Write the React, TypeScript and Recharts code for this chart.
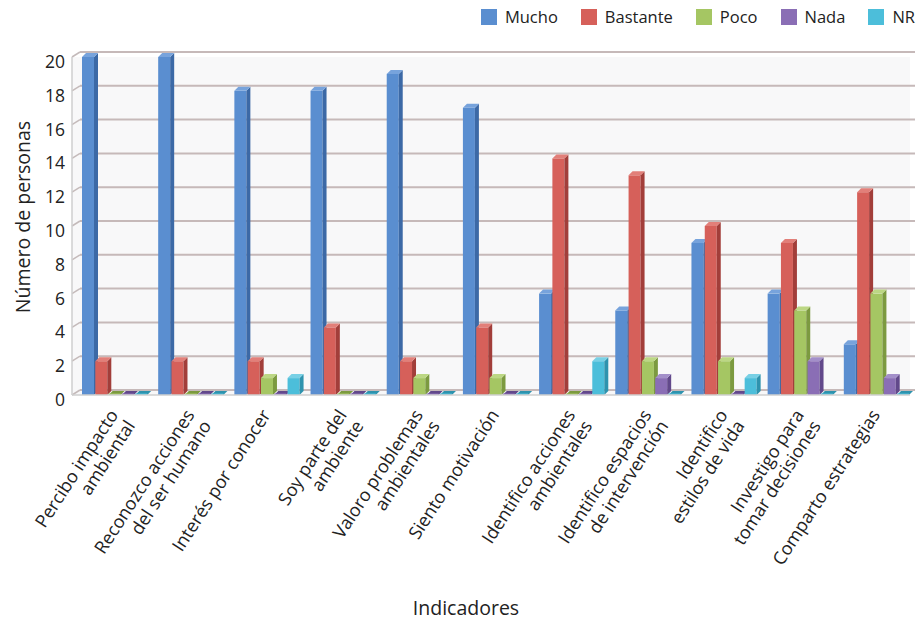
import React from "react";
import {
  BarChart,
  Bar,
  XAxis,
  YAxis,
  CartesianGrid,
  Legend,
  Label,
} from "recharts";

// Indicator names (line breaks mark the two-line tick labels)
const categories = [
  "Percibo impacto\nambiental",
  "Reconozco acciones\ndel ser humano",
  "Interés por conocer",
  "Soy parte del\nambiente",
  "Valoro problemas\nambientales",
  "Siento motivación",
  "Identifico acciones\nambientales",
  "Identifico espacios\nde intervención",
  "Identifico\nestilos de vida",
  "Investigo para\ntomar decisiones",
  "Comparto estrategias",
];

// Number of people per answer
const mucho = [20, 20, 18, 18, 19, 17, 6, 5, 9, 6, 3];
const bastante = [2, 2, 2, 4, 2, 4, 14, 13, 10, 9, 12];
const poco = [0, 0, 1, 0, 1, 1, 0, 2, 2, 5, 6];
const nada = [0, 0, 0, 0, 0, 0, 0, 1, 0, 2, 1];
const nr = [0, 0, 1, 0, 0, 0, 2, 0, 1, 0, 0];

const yTicks = [0, 2, 4, 6, 8, 10, 12, 14, 16, 18, 20];

const seriesNames = ["Mucho", "Bastante", "Poco", "Nada", "NR"];

const data = categories.map((name, i) => ({
  name,
  Mucho: mucho[i],
  Bastante: bastante[i],
  Poco: poco[i],
  Nada: nada[i],
  NR: nr[i],
}));

// front / side / top face colours for the extruded bars
const palette: Record<string, { front: string; side: string; top: string }> = {
  Mucho: { front: "#5A8ED0", side: "#3C69A6", top: "#77A3DC" },
  Bastante: { front: "#D6605A", side: "#A23E3A", top: "#E27F79" },
  Poco: { front: "#A5C663", side: "#7C9A40", top: "#BCD784" },
  Nada: { front: "#8A6EB5", side: "#62498B", top: "#A38FC9" },
  NR: { front: "#4CBEDA", side: "#2E93AE", top: "#78D0E5" },
};

const FONT = "'Open Sans', 'Noto Sans', sans-serif";
const DEPTH_X = 8;
const DEPTH_Y = 5;

function make3DBar(name: string) {
  const c = palette[name];
  return (props: any) => {
    const { x, y, width, height } = props;
    if (x == null || y == null) return <g />;
    const shift = 5;
    const w = width - 1.3;
    const dx = 4;
    const dy = 4;
    const fx = x + shift;
    const base = y + height;
    if (height < 1.5) {
      return (
        <g>
          <polygon
            points={`${fx},${base} ${fx + w},${base} ${fx + w + dx},${base - dy} ${fx + dx},${base - dy}`}
            fill={c.side}
          />
          <rect x={fx} y={base - 1.5} width={w} height={1.5} fill={c.front} />
        </g>
      );
    }
    return (
      <g>
        <rect x={fx} y={y} width={w} height={height} fill={c.front} />
        <polygon
          points={`${fx + w},${y} ${fx + w + dx},${y - dy} ${fx + w + dx},${base - dy} ${fx + w},${base}`}
          fill={c.side}
        />
        <polygon
          points={`${fx},${y} ${fx + dx},${y - dy} ${fx + w + dx},${y - dy} ${fx + w},${y}`}
          fill={c.top}
        />
      </g>
    );
  };
}

// horizontal grid line drawn on the back wall, joined to the axis by a short diagonal
const gridLine = (props: any) => {
  const { x1, y1, x2 } = props;
  return (
    <g key={props.key}>
      <line x1={x1} y1={y1} x2={x1 + DEPTH_X} y2={y1 - DEPTH_Y} stroke="#c4baba" strokeWidth={1.5} />
      <line x1={x1 + DEPTH_X} y1={y1 - DEPTH_Y} x2={x2 + 5} y2={y1 - DEPTH_Y} stroke="#c6b9b9" strokeWidth={2} />
    </g>
  );
};

const YTick = (props: any) => {
  const { x, y, payload } = props;
  return (
    <text x={x - 1} y={y + 4} textAnchor="end" dominantBaseline="central" fontFamily={FONT} fontSize={17.5} fill="#222">
      {payload.value}
    </text>
  );
};

const XTick = (props: any) => {
  const { x, y, payload } = props;
  const lines = String(payload.value).split("\n");
  const ang = -57;
  const rad = (ang * Math.PI) / 180;
  // "down" direction of the rotated text frame
  const ddx = -Math.sin(rad);
  const ddy = Math.cos(rad);
  const lh = 20;
  return (
    <g>
      {lines.map((ln, i) => {
        const px = x + 3 + ddx * lh * i;
        const py = y + 16 + ddy * lh * i;
        return (
          <text
            key={i}
            x={px}
            y={py}
            transform={`rotate(${ang}, ${px}, ${py})`}
            textAnchor="end"
            dominantBaseline="central"
            fontFamily={FONT}
            fontSize={18}
            fill="#222"
          >
            {ln}
          </text>
        );
      })}
    </g>
  );
};

const LegendBox = () => (
  <div
    style={{
      display: "flex",
      justifyContent: "flex-end",
      alignItems: "center",
      fontFamily: FONT,
      fontSize: 16.5,
      color: "#222",
      lineHeight: "16px",
    }}
  >
    {seriesNames.map((n, i) => (
      <div key={n} style={{ display: "flex", alignItems: "center", marginLeft: i === 0 ? 0 : 23 }}>
        <span style={{ display: "inline-block", width: 16, height: 16, background: palette[n].front, marginRight: 8 }} />
        <span>{n}</span>
      </div>
    ))}
  </div>
);

export default function App() {
  return (
    <div style={{ position: "fixed", left: 0, top: 0, width: 921, height: 621, background: "#fff" }}>
      <BarChart
        width={921}
        height={621}
        data={data}
        margin={{ top: 57, right: 11, bottom: 0, left: 0 }}
        barGap={0}
        barSize={13.3}
      >
        <CartesianGrid vertical={false} horizontal={gridLine} fill="#f8f8f9" />
        <XAxis
          dataKey="name"
          interval={0}
          height={226}
          tickLine={false}
          tickSize={0}
          tickMargin={0}
          axisLine={{ stroke: "#cfcfcf", strokeWidth: 1.5 }}
          tick={<XTick />}
        >
          <Label
            content={(p: any) => {
              const vb = p.viewBox;
              return (
                <text x={vb.x + vb.width / 2 - 25} y={vb.y + 212} textAnchor="middle" dominantBaseline="central" fontFamily={FONT} fontSize={19.5} fill="#222">
                  Indicadores
                </text>
              );
            }}
          />
        </XAxis>
        <YAxis
          width={72}
          domain={[0, 20]}
          ticks={yTicks}
          interval={0}
          tickLine={false}
          tickSize={0}
          tickMargin={6}
          axisLine={{ stroke: "#cfcfcf", strokeWidth: 1.5 }}
          tick={<YTick />}
        >
          <Label
            content={(p: any) => {
              const vb = p.viewBox;
              const cx = vb.x + 22;
              const cy = 217;
              return (
                <text x={cx} y={cy} transform={`rotate(-90, ${cx}, ${cy})`} textAnchor="middle" dominantBaseline="central" fontFamily={FONT} fontSize={19.5} fill="#222">
                  Número de personas
                </text>
              );
            }}
          />
        </YAxis>
        <Legend
          layout="horizontal"
          align="center"
          verticalAlign="middle"
          wrapperStyle={{ top: 9, left: 0, width: 915 }}
          content={<LegendBox />}
        />
        {seriesNames.map((n) => (
          <Bar key={n} dataKey={n} fill={palette[n].front} shape={make3DBar(n)} isAnimationActive={false} />
        ))}
      </BarChart>
    </div>
  );
}
